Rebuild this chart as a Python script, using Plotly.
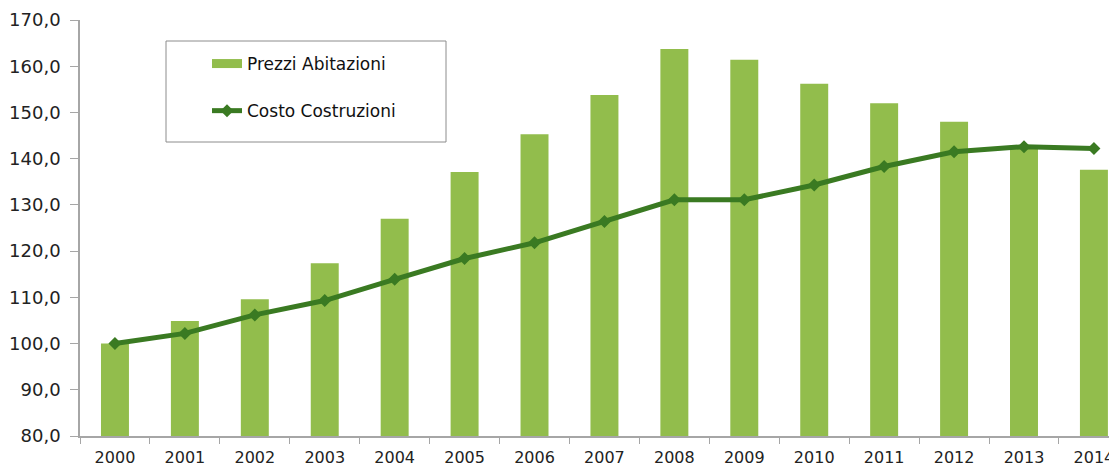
import plotly.graph_objects as go

years = ["2000", "2001", "2002", "2003", "2004", "2005", "2006", "2007",
         "2008", "2009", "2010", "2011", "2012", "2013", "2014"]
prezzi_abitazioni = [100.0, 104.9, 109.6, 117.4, 127.0, 137.1, 145.3, 153.8,
                     163.7, 161.4, 156.2, 152.0, 148.0, 142.8, 137.6]
costo_costruzioni = [100.0, 102.2, 106.2, 109.3, 113.9, 118.4, 121.8, 126.4,
                     131.1, 131.1, 134.3, 138.3, 141.5, 142.6, 142.2]

BAR_COLOR = "#92bd4c"
LINE_COLOR = "#3a7a22"
FONT = "DejaVu Sans"

fig = go.Figure()

# bars (legend drawn with a proxy entry)
fig.add_trace(go.Bar(x=years, y=prezzi_abitazioni, name="Prezzi Abitazioni",
                     marker=dict(color=BAR_COLOR, line=dict(width=0)),
                     width=0.4, showlegend=False))
fig.add_trace(go.Scatter(x=years, y=costo_costruzioni, name="Costo Costruzioni",
                         mode="lines+markers",
                         line=dict(color=LINE_COLOR, width=5),
                         marker=dict(symbol="diamond", size=10, color=LINE_COLOR),
                         showlegend=False))
# legend proxies
fig.add_trace(go.Scatter(x=[None], y=[None], mode="lines", name="Prezzi Abitazioni",
                         line=dict(color=BAR_COLOR, width=9), legendgroup="a"))
fig.add_trace(go.Scatter(x=[None], y=[None], mode="lines+markers", name="Costo Costruzioni",
                         line=dict(color=LINE_COLOR, width=5),
                         marker=dict(symbol="diamond", size=10, color=LINE_COLOR),
                         legendgroup="b"))

# page body has an 8px margin: the figure sits at (8, 8) in the window
OFF = 8
W, H = 1117 - OFF, 468 - OFF
ml, mt = 80 - OFF, 20 - OFF
ph = 416
mb = H - mt - ph
mr = 0
pw = W - ml - mr

def px2x(p):
    return (p - OFF - ml) / pw

def px2y(p):
    return 1 - (p - OFF - mt) / ph

fig.add_shape(type="rect", xref="paper", yref="paper",
              x0=px2x(166), x1=px2x(446), y0=px2y(142), y1=px2y(41),
              line=dict(color="#8c8c8c", width=1), fillcolor="rgba(0,0,0,0)")

fig.update_layout(
    width=W, height=H,
    margin=dict(l=ml, r=mr, t=mt, b=mb, autoexpand=False),
    paper_bgcolor="white", plot_bgcolor="white",
    separators=",.",
    font=dict(family=FONT, size=16, color="#222222"),
    showlegend=True,
    legend=dict(x=px2x(207), y=px2y(46), xanchor="left", yanchor="top",
                bgcolor="rgba(0,0,0,0)", borderwidth=0,
                font=dict(family=FONT, size=17, color="#111111"),
                traceorder="grouped", tracegroupgap=22),
    xaxis=dict(type="category", range=[-0.5, 14.33], showline=True,
               linecolor="#a6a6a6", linewidth=1.5, ticks="outside",
               tickson="boundaries", ticklen=6, tickcolor="#a6a6a6",
               showgrid=False, zeroline=False, automargin=False,
               ticklabelstandoff=6,
               tickfont=dict(family=FONT, size=16, color="#222222")),
    yaxis=dict(range=[80, 170], tickvals=[80, 90, 100, 110, 120, 130, 140, 150, 160, 170],
               tickformat=".1f", showline=True, linecolor="#a6a6a6", linewidth=1.5,
               ticks="outside", ticklen=8, tickcolor="#a6a6a6",
               showgrid=False, zeroline=False, automargin=False,
               ticklabelstandoff=6,
               tickfont=dict(family=FONT, size=18, color="#222222")),
    bargap=0.6,
)

fig.write_html("out.html")
